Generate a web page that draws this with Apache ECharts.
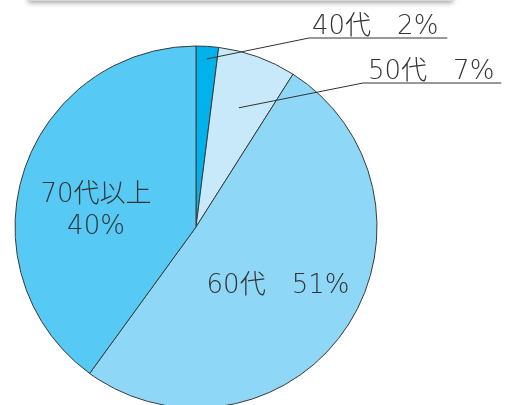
<!DOCTYPE html>
<html><head><meta charset="utf-8">
<script src="https://cdn.jsdelivr.net/npm/echarts@6/dist/echarts.min.js"></script>
<style>html,body{margin:0;padding:0;background:#fff}#c{width:512px;height:405px}</style>
</head><body><div id="c"></div>
<script>
const categories = ['40代', '50代', '60代', '70代以上'];
const values = [2, 7, 51, 40];
const colors = ['#00b2ec', '#c7e9f9', '#8fd7f6', '#56caf5'];

const CX = 196, CY = 227, R = 181;
const FONT = '"DejaVu Sans", "Noto Sans CJK JP", sans-serif';
const FSIZE = 26;
// label placement (left/bottom for outside labels, center for inner)
const labelPlace = [
  {x: 309, y: 38, outside: true, startFrac: 0.93, padL: 3, padR: 9},
  {x: 363, y: 83, outside: true, startFrac: 0.70, padL: 5, padR: 7},
  {x: 278, y: 286},
  {x: 96, y: 211}
];
const TEXT_DROP = 4;
const total = values.reduce((a, b) => a + b, 0);
const midAngles = [];
{ let acc = 0; values.forEach(v => { midAngles.push((acc + v / 2) / total * 2 * Math.PI); acc += v; }); }

const labelText = i => {
  if (i === 3) return categories[i] + '\n' + values[i] + '%';
  return categories[i] + '\u3000' + values[i] + '%';
};

const ctx = document.createElement('canvas').getContext('2d');
ctx.font = '300 ' + FSIZE + 'px ' + FONT;

const guides = [];
labelPlace.forEach((lp, i) => {
  if (!lp.outside) return;
  const a = midAngles[i];
  const sx = CX + R * lp.startFrac * Math.sin(a);
  const sy = CY - R * lp.startFrac * Math.cos(a);
  const w = ctx.measureText(labelText(i)).width + lp.padL + lp.padR;
  guides.push({
    type: 'polyline', z: 5,
    shape: {points: [[sx, sy], [lp.x, lp.y], [lp.x + w, lp.y]]},
    style: {stroke: '#333', lineWidth: 1, fill: null}
  });
});

const chart = echarts.init(document.getElementById('c'));
chart.setOption({
  animation: false,
  graphic: [{
    type: 'rect', shape: {x: 28, y: -30, width: 425, height: 31},
    style: {fill: '#d8d8d8', shadowBlur: 5, shadowColor: 'rgba(0,0,0,0.35)', shadowOffsetY: 2},
    z: 10
  }].concat(guides),
  series: [{
    type: 'pie',
    center: [CX, CY],
    radius: R,
    startAngle: 90,
    clockwise: true,
    data: categories.map((c, i) => ({
      name: c, value: values[i],
      itemStyle: {color: colors[i]},
      label: labelPlace[i].outside ? {
        position: 'outside', padding: [0, labelPlace[i].padR, 0, labelPlace[i].padL]
      } : {position: 'inside', lineHeight: 32}
    })),
    itemStyle: {borderColor: '#3a3a3a', borderWidth: 1},
    label: {
      show: true,
      formatter: p => labelText(p.dataIndex),
      fontFamily: FONT, fontSize: FSIZE, fontWeight: 300, color: '#333', lineHeight: 30
    },
    labelLine: {show: false},
    labelLayout: function (params) {
      const i = params.dataIndex;
      const lp = labelPlace[i];
      if (lp.outside) {
        return {x: lp.x, y: lp.y + TEXT_DROP, align: 'left', verticalAlign: 'bottom'};
      }
      return {x: lp.x, y: lp.y, align: 'center', verticalAlign: 'middle'};
    }
  }]
});
</script></body></html>
